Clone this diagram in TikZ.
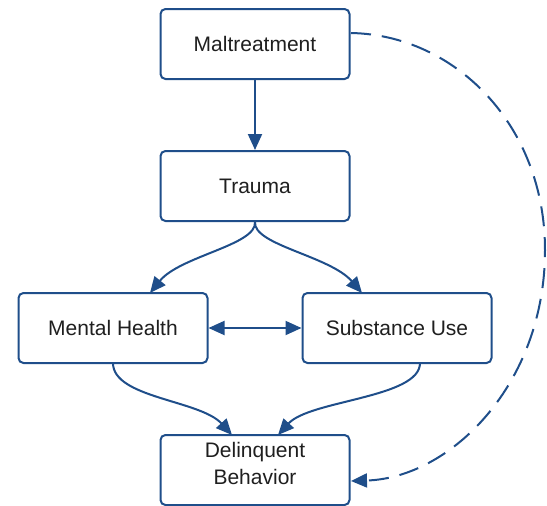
\documentclass[tikz,border=0pt]{standalone}
\usepackage{fontspec}
\setmainfont{Liberation Sans}
\usetikzlibrary{arrows.meta}
\definecolor{navy}{RGB}{31,78,138}
\begin{document}
\begin{tikzpicture}[x=1pt,y=-1pt,
  box/.style={draw=navy, line width=2pt, rounded corners=5pt,
    minimum width=189pt, minimum height=70pt, fill=white, align=center,
    text=black!88, font=\fontsize{21}{27}\selectfont, inner sep=2pt},
  txt/.style={align=center, text=black!88, font=\fontsize{21}{27}\selectfont, inner sep=0pt},
  tip/.style={-{Triangle[length=16pt,width=14pt]}},
  conn/.style={draw=navy, line width=2pt, tip},
  dconn/.style={conn, dash pattern=on 20pt off 11pt}]
\useasboundingbox (0,0) rectangle (547,506);
\node[box] (m) at (255,44) {Maltreatment};
\node[box] (t) at (255,186) {Trauma};
\node[box] (mh) at (113,328) {Mental Health};
\node[box] (su) at (397,328) {Substance Use};
\node[box] (d) at (255,470) {};
\node[txt] (dt) at (255,463) {Delinquent\\Behavior};
\coordinate (mtop) at (150,293);
\coordinate (stop) at (362,293);
\coordinate (dl) at (232,435);
\coordinate (dr) at (278,435);
\coordinate (ms) at (113,363);
\coordinate (ss) at (420,363);
\coordinate (mr) at (351,33);
\coordinate (drr) at (351,481);
\draw[conn] (m.south) -- (t.north);
\draw[conn] (t.south) .. controls (257,245) and (180,256) .. (mtop);
\draw[conn] (t.south) .. controls (253,245) and (330,256) .. (stop);
\draw[conn, {Triangle[length=16pt,width=14pt]}-{Triangle[length=16pt,width=14pt]}] (mh.east) -- (su.west);
\draw[conn] (ms) .. controls (113,398) and (200,400) .. (dl);
\draw[conn] (ss) .. controls (420,398) and (310,400) .. (dr);
\draw[dconn] (mr) .. controls (455,35) and (545,125) .. (545,250)
  .. controls (545,385) and (450,478) .. (drr);
\end{tikzpicture}
\end{document}
